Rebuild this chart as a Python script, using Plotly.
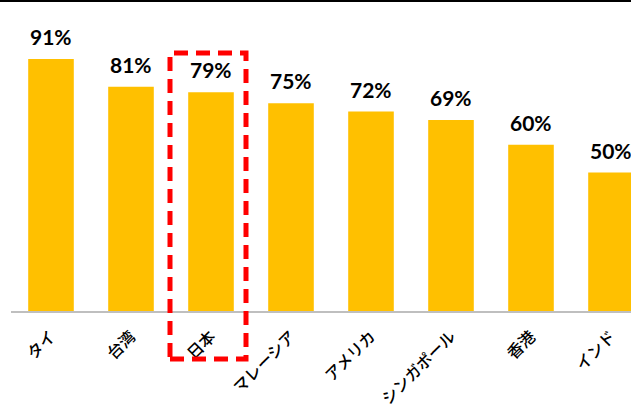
import plotly.graph_objects as go

categories = ["タイ", "台湾", "日本", "マレーシア", "アメリカ", "シンガポール", "香港", "インド"]
values = [91, 81, 79, 75, 72, 69, 60, 50]
labels = [f"{v}%" for v in values]

W, H = 631, 407
ml, mr, mt, mb = 11, 0, 0, 96
pw, ph = W - ml - mr, H - mt - mb

fig = go.Figure(go.Bar(
    x=categories, y=values,
    marker=dict(color="#FFC000", line=dict(width=0)),
    width=0.57,
    hoverinfo="x+y",
))

for c, v, t in zip(categories, values, labels):
    fig.add_annotation(
        x=c, y=v, text=f"<b>{t}</b>", showarrow=False,
        yanchor="bottom", xanchor="center", yshift=8,
        font=dict(family="Lato", size=21, color="#000000"),
    )

def px_x(p):
    return (p - ml) / pw

def px_y(p):
    return (H - mb - p) / ph

fig.update_layout(
    width=W, height=H,
    margin=dict(l=ml, r=mr, t=mt, b=mb, pad=0, autoexpand=False),
    paper_bgcolor="white", plot_bgcolor="white",
    showlegend=False,
    xaxis=dict(
        range=[-0.5, 7.25], tickangle=-45, automargin=False,
        tickfont=dict(family="Noto Sans CJK JP", size=16, color="#000000", weight=500),
        ticklabelstandoff=8,
        showline=True, linecolor="#BFBFBF", linewidth=1.5,
        showgrid=False, ticks="", fixedrange=True,
    ),
    yaxis=dict(range=[0, 112.3], visible=False, showgrid=False,
               fixedrange=True, automargin=False),
    shapes=[
        dict(type="line", xref="paper", yref="paper",
             x0=px_x(0), x1=1, y0=px_y(1), y1=px_y(1),
             line=dict(color="#000000", width=2)),
        dict(type="rect", xref="paper", yref="paper",
             x0=px_x(170), x1=px_x(246), y0=px_y(359), y1=px_y(53),
             line=dict(color="#FF0000", width=5, dash="14px,8px")),
    ],
)

fig.write_html("out.html", config={"displayModeBar": False},
               post_script="document.body.style.margin='0';document.body.style.overflow='hidden';")
